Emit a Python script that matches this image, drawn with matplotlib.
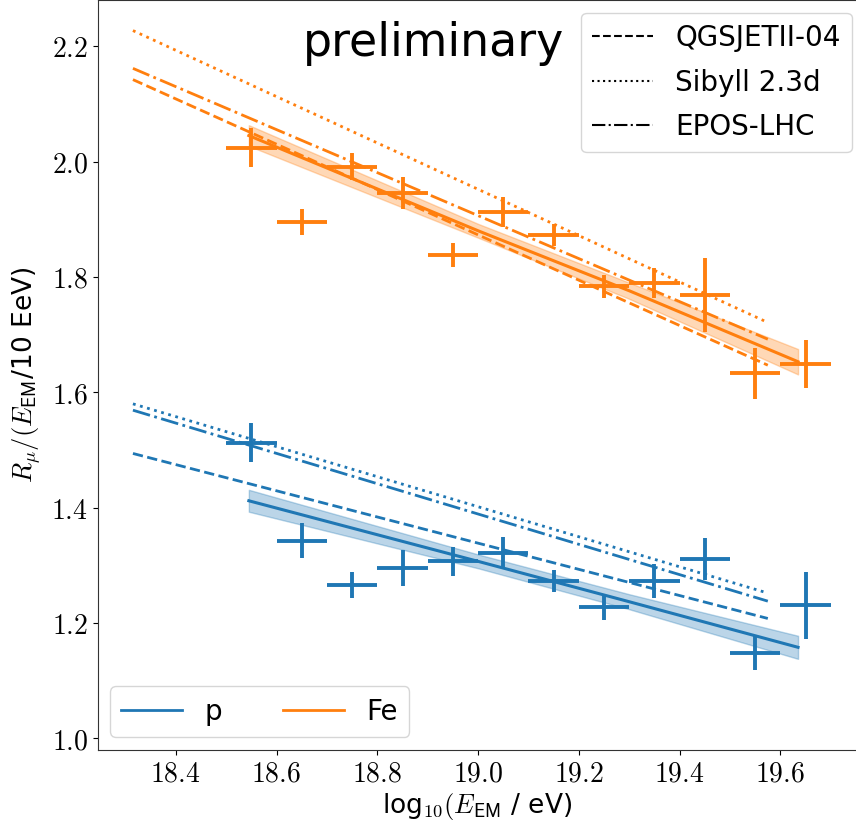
import matplotlib
matplotlib.use('Agg')
import matplotlib.pyplot as plt
from matplotlib.lines import Line2D
from matplotlib.ticker import FuncFormatter

plt.rcParams['mathtext.fontset'] = 'cm'

# energy bins (log10 E_EM / eV)
lgE = [18.55, 18.65, 18.75, 18.85, 18.95, 19.05, 19.15, 19.25, 19.35, 19.45, 19.55, 19.65]
lgE_err = 0.05

# measured R_mu points, proton-like (blue) and iron-like (orange) scale
p_vals = [1.513, 1.343, 1.266, 1.296, 1.307, 1.321, 1.273, 1.228, 1.273, 1.311, 1.148, 1.231]
p_errs = [0.034, 0.030, 0.023, 0.031, 0.025, 0.028, 0.019, 0.022, 0.029, 0.036, 0.030, 0.058]
fe_vals = [2.024, 1.895, 1.991, 1.945, 1.838, 1.912, 1.873, 1.784, 1.790, 1.769, 1.633, 1.649]
fe_errs = [0.034, 0.023, 0.023, 0.028, 0.021, 0.026, 0.019, 0.020, 0.026, 0.064, 0.044, 0.042]

# fitted trend with uncertainty band
fit_x = [18.545, 19.0, 19.3, 19.635]
p_fit = [1.412, 1.307, 1.237, 1.158]
p_band = [0.019, 0.012, 0.013, 0.020]
fe_fit = [2.045, 1.880, 1.776, 1.653]
fe_band = [0.018, 0.012, 0.014, 0.022]

# hadronic model predictions
model_x = [18.315, 19.575]
p_qgs = [1.494, 1.208]
p_sib = [1.580, 1.252]
p_epos = [1.569, 1.238]
fe_qgs = [2.142, 1.647]
fe_sib = [2.227, 1.721]
fe_epos = [2.1615, 1.692]

blue = '#1f77b4'
orange = '#ff7f0e'

fig = plt.figure(figsize=(8.56, 8.27), dpi=100)
ax = fig.add_axes([0.1141, 0.0931, 0.8859, 0.9069])

for vals, errs, fit, band, qgs, sib, epos, c in [
        (p_vals, p_errs, p_fit, p_band, p_qgs, p_sib, p_epos, blue),
        (fe_vals, fe_errs, fe_fit, fe_band, fe_qgs, fe_sib, fe_epos, orange)]:
    ax.errorbar(lgE, vals, xerr=lgE_err, yerr=errs, fmt='none', ecolor=c,
                elinewidth=2.8, capsize=0)
    ax.plot(fit_x, fit, color=c, lw=2.2)
    ax.fill_between(fit_x, [f - b for f, b in zip(fit, band)],
                    [f + b for f, b in zip(fit, band)], color=c, alpha=0.3)
    ax.plot(model_x, qgs, color=c, ls='--', lw=2)
    ax.plot(model_x, sib, color=c, ls=':', lw=2)
    ax.plot(model_x, epos, color=c, ls='-.', lw=2)

ax.set_xlim(18.245, 19.750)
ax.set_ylim(0.980, 2.280)
ax.set_xticks([18.4, 18.6, 18.8, 19.0, 19.2, 19.4, 19.6])
ax.set_yticks([1.0, 1.2, 1.4, 1.6, 1.8, 2.0, 2.2])
fmt = FuncFormatter(lambda v, pos: f'${v:.1f}$')
ax.xaxis.set_major_formatter(fmt)
ax.yaxis.set_major_formatter(fmt)
ax.tick_params(labelsize=20)
ax.spines['right'].set_visible(False)
for s in ax.spines.values():
    s.set_color('#333333')

ax.set_xlabel(r'log$_{10}(E_\mathsf{EM}$ / eV)', fontsize=19, labelpad=2)
ax.set_ylabel(r'$R_\mu/(E_\mathsf{EM}$/10 EeV)', fontsize=19, labelpad=6)

ax.text(0.443, 0.925, 'preliminary', transform=ax.transAxes, fontsize=33,
        ha='center', va='baseline')

model_handles = [Line2D([], [], color='black', ls='--', lw=1.5),
                 Line2D([], [], color='black', ls=':', lw=1.5),
                 Line2D([], [], color='black', ls='-.', lw=1.5)]
leg1 = ax.legend(model_handles, ['QGSJETII-04', 'Sibyll 2.3d', 'EPOS-LHC'],
                 loc='upper right', bbox_to_anchor=(0.9953, 0.9846),
                 bbox_transform=fig.transFigure, borderaxespad=0, fontsize=20,
                 handlelength=2.2, labelspacing=0.6)
ax.add_artist(leg1)

comp_handles = [Line2D([], [], color=blue, lw=2), Line2D([], [], color=orange, lw=2)]
ax.legend(comp_handles, ['p', 'Fe'], loc='lower left', ncol=2,
          bbox_to_anchor=(0.1285, 0.1092), bbox_transform=fig.transFigure,
          borderaxespad=0, fontsize=20, handlelength=2.2, columnspacing=2.2)

fig.savefig('out.png', dpi=100)
